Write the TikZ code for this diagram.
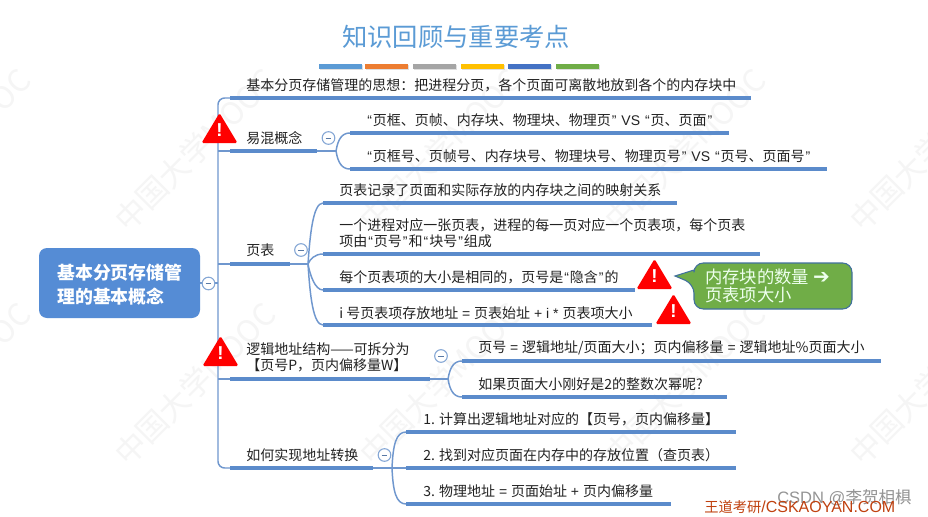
\documentclass[tikz,border=0pt]{standalone}
\usepackage{fontspec}
\setmainfont{Noto Sans CJK SC}
\newfontfamily\latf{Liberation Sans}
\newfontfamily\symf{DejaVu Sans}
\newcommand{\qa}{\hspace{0.75pt}{\latf “}\hspace{0.75pt}}
\newcommand{\qb}{\hspace{0.75pt}{\latf ”}\hspace{0.75pt}}
\newcommand{\lt}[1]{{\latf\ #1\ }}
\definecolor{branch}{HTML}{5B8BCB}
\definecolor{thinb}{HTML}{6F97CE}
\definecolor{rootc}{HTML}{558CD5}
\definecolor{titlec}{HTML}{5B9BD5}
\definecolor{ink}{HTML}{222222}
\definecolor{bara}{HTML}{ED7D31}
\definecolor{barb}{HTML}{A5A5A5}
\definecolor{barc}{HTML}{FFC000}
\definecolor{bard}{HTML}{4472C4}
\definecolor{bare}{HTML}{70AD47}
\definecolor{callb}{HTML}{41719C}
\definecolor{wdc}{HTML}{C0410F}
\usetikzlibrary{shadows}
\tikzset{
  thick branch/.style={draw=branch,line width=2.7pt},
  thinline/.style={draw=thinb,line width=1.1pt,rounded corners=5pt},
  bodytext/.style={anchor=west,inner sep=0pt,text=ink,align=left,font=\fontsize{10.5}{12}\selectfont},
  bar/.style={draw=none,drop shadow={opacity=0.25,shadow xshift=0.5pt,shadow yshift=-0.5pt}},
  collapse/.style={circle,draw=thinb!85,fill=white,line width=0.8pt,minimum size=9.5pt,inner sep=0pt,
    path picture={\draw[thinb!80!black,line width=0.7pt] ([xshift=-2.2pt]path picture bounding box.center) -- ([xshift=2.2pt]path picture bounding box.center);}},
  watermark/.style={text=black!4,rotate=45,inner sep=0pt,font=\fontsize{23}{24}\selectfont},
  warnsign/.pic={
    \fill[red,rounded corners=1.2pt] (0,-1) -- (18,29) -- (-18,29) -- cycle;
    \node[text=white,inner sep=0pt,font=\fontsize{14}{14}\selectfont\bfseries\latf] at (0,16) {!};
  }
}
\begin{document}
\begin{tikzpicture}[x=0.75pt,y=-0.75pt]
\useasboundingbox (0,0) rectangle (928,517);
\fill[white] (0,0) rectangle (928,517);
% watermark
\foreach \wx in {0,1,2,3,4}{\foreach \wy in {0,1}{
  \node[watermark] (wm\wx\wy) at ({-50+245*\wx},{150+234*\wy}) {中国大学MOOC};
}}
% title
\node[inner sep=0pt,text=titlec,font=\fontsize{19}{24}\selectfont] (title) at (456,37) {知识回顾与重要考点};
\fill[titlec,bar] (319,64) rectangle (362,69);
\fill[bara,bar] (365,64) rectangle (408,69);
\fill[barb,bar] (413,64) rectangle (456,69);
\fill[barc,bar] (461,64) rectangle (504,69);
\fill[bard,bar] (508,64) rectangle (551,69);
\fill[bare,bar] (556,64) rectangle (599,69);
% root
\node[fill=rootc,rounded corners=6pt,minimum width=120.75pt,minimum height=52.5pt,inner sep=0pt] (root) at (119.5,283) {};
\node[anchor=west,inner sep=0pt,text=white,align=left,font=\fontsize{13.4}{18}\selectfont\bfseries] (roott) at (57,285) {基本分页存储管\\理的基本概念};
% named points
\coordinate (trunk) at (218,283);
\coordinate (a1) at (230,98);  \coordinate (a1e) at (751,98);
\coordinate (a2) at (230,151); \coordinate (a2e) at (317,151);
\coordinate (a3) at (230,264); \coordinate (a3e) at (290,264);
\coordinate (a4) at (230,379); \coordinate (a4e) at (430,379);
\coordinate (a5) at (230,468); \coordinate (a5e) at (373,468);
% trunk
\draw[thinline] (a1) -- (218,98) -- (218,468) -- (a5);
\draw[thinline] (a2) -- (218,151);
\draw[thinline] (a3) -- (218,264);
\draw[thinline] (a4) -- (218,379);
\draw[thinline] (root.east) -- (trunk);
\foreach \p/\q in {a1/a1e,a2/a2e,a3/a3e,a4/a4e,a5/a5e}{\draw[thick branch] (\p) -- (\q);}
% first level text
\node[bodytext] (t1) at (246,85) {基本分页存储管理的思想：把进程分页，各个页面可离散地放到各个的内存块中};
\node[bodytext] (t2) at (246,138) {易混概念};
\node[bodytext] (t3) at (246,250) {页表};
\node[bodytext] (t4) at (246,357.5) {逻辑地址结构——可拆分为\\【页号P，页内偏移量W】};
\node[bodytext] (t5) at (246,455) {如何实现地址转换};
% group 2
\coordinate (f2) at (336,151);
\coordinate (c21) at (350,133); \coordinate (c21e) at (729,133);
\coordinate (c22) at (350,169); \coordinate (c22e) at (827,169);
\draw[thinb,line width=1.1pt] (a2e) -- (f2);
\draw[thinb,line width=1.1pt] (f2) .. controls (338,139) and (342,133) .. (c21);
\draw[thinb,line width=1.1pt] (f2) .. controls (338,163) and (342,169) .. (c22);
\draw[thick branch] (c21) -- (c21e);
\draw[thick branch] (c22) -- (c22e);
\node[bodytext] (t21) at (366,120) {\qa 页框、页帧、内存块、物理块、物理页\qb\lt{VS}\qa 页、页面\qb};
\node[bodytext] (t22) at (366,156) {\qa 页框号、页帧号、内存块号、物理块号、物理页号\qb\lt{VS}\qa 页号、页面号\qb};
% group 3
\coordinate (f3) at (308,264);
\coordinate (c31) at (323,203); \coordinate (c31e) at (677,203);
\coordinate (c32) at (323,254); \coordinate (c32e) at (760,254);
\coordinate (c33) at (323,290); \coordinate (c33e) at (635,290);
\coordinate (c34) at (323,325); \coordinate (c34e) at (652,325);
\draw[thinb,line width=1.1pt] (a3e) -- (f3);
\draw[thinb,line width=1.1pt] (f3) .. controls (310,235) and (313,203) .. (c31);
\draw[thinb,line width=1.1pt] (f3) .. controls (310,259) and (315,254) .. (c32);
\draw[thinb,line width=1.1pt] (f3) .. controls (310,275) and (315,290) .. (c33);
\draw[thinb,line width=1.1pt] (f3) .. controls (310,295) and (313,325) .. (c34);
\foreach \p/\q in {c31/c31e,c32/c32e,c33/c33e,c34/c34e}{\draw[thick branch] (\p) -- (\q);}
\node[bodytext] (t31) at (339,190) {页表记录了页面和实际存放的内存块之间的映射关系};
\node[bodytext] (t32) at (339,233) {一个进程对应一张页表，进程的每一页对应一个页表项，每个页表\\项由\qa 页号\qb 和\qa 块号\qb 组成};
\node[bodytext] (t33) at (339,277) {每个页表项的大小是相同的，页号是\qa 隐含\qb 的};
\node[bodytext] (t34) at (339,313) {i 号页表项存放地址\lt{=}页表始址\lt{+ i *}页表项大小};
% group 4
\coordinate (f4) at (448,379);
\coordinate (c41) at (462,361); \coordinate (c41e) at (881,361);
\coordinate (c42) at (462,397); \coordinate (c42e) at (727,397);
\draw[thinb,line width=1.1pt] (a4e) -- (f4);
\draw[thinb,line width=1.1pt] (f4) .. controls (450,367) and (454,361) .. (c41);
\draw[thinb,line width=1.1pt] (f4) .. controls (450,391) and (454,397) .. (c42);
\draw[thick branch] (c41) -- (c41e);
\draw[thick branch] (c42) -- (c42e);
\node[bodytext] (t41) at (478,348) {页号\lt{=}逻辑地址/页面大小；页内偏移量\lt{=}逻辑地址\%页面大小};
\node[bodytext] (t42) at (478,384) {如果页面大小刚好是2的整数次幂呢?};
% group 5
\coordinate (f5) at (392,468);
\coordinate (c51) at (406,432); \coordinate (c51e) at (736,432);
\coordinate (c52) at (406,468); \coordinate (c52e) at (736,468);
\coordinate (c53) at (406,504); \coordinate (c53e) at (671,504);
\draw[thinb,line width=1.1pt] (a5e) -- (c52);
\draw[thinb,line width=1.1pt] (f5) .. controls (393,445) and (396,432) .. (c51);
\draw[thinb,line width=1.1pt] (f5) .. controls (393,491) and (396,504) .. (c53);
\foreach \p/\q in {c51/c51e,c52/c52e,c53/c53e}{\draw[thick branch] (\p) -- (\q);}
\node[bodytext] (t51) at (423,419) {1. 计算出逻辑地址对应的【页号，页内偏移量】};
\node[bodytext] (t52) at (423,455) {2. 找到对应页面在内存中的存放位置（查页表）};
\node[bodytext] (t53) at (423,491) {3. 物理地址\lt{=}页面始址\lt{+}页内偏移量};
% collapse markers
\node[collapse] (m0) at (208.5,283.5) {};
\node[collapse] (m2) at (328.5,138) {};
\node[collapse] (m3) at (301,250) {};
\node[collapse] (m4) at (441,356) {};
\node[collapse] (m5) at (384.5,455) {};
% warning signs
\pic at (219.5,114) {warnsign};
\pic at (220.5,337) {warnsign};
\pic at (654.5,260) {warnsign};
\pic at (673.5,295) {warnsign};
% callout
\draw[fill=bare,draw=callb,line width=0.8pt] (694,284) -- (675,276) -- (694,270) [rounded corners=7pt] -- (694,263) -- (852,263) -- (852,309) -- (694,309) -- cycle;
\node[anchor=west,inner sep=0pt,align=left,text=white!93!green,font=\fontsize{13}{13.5}\selectfont] (call) at (705,286) {内存块的数量 {\symf\bfseries\fontsize{15}{13.5}\selectfont ➔}\\页表项大小};
% footer
\node[anchor=west,inner sep=0pt,text=black!42,font=\fontsize{12.4}{12}\selectfont] (csdn) at (777,498) {{\latf CSDN @}李贺相椇};
\node[anchor=west,inner sep=0pt,text=wdc,font=\fontsize{10.7}{12}\selectfont] (wd) at (704,507) {王道考研{\latf\fontsize{12}{12}\selectfont /CSKAOYAN.COM}};
\end{tikzpicture}
\end{document}
